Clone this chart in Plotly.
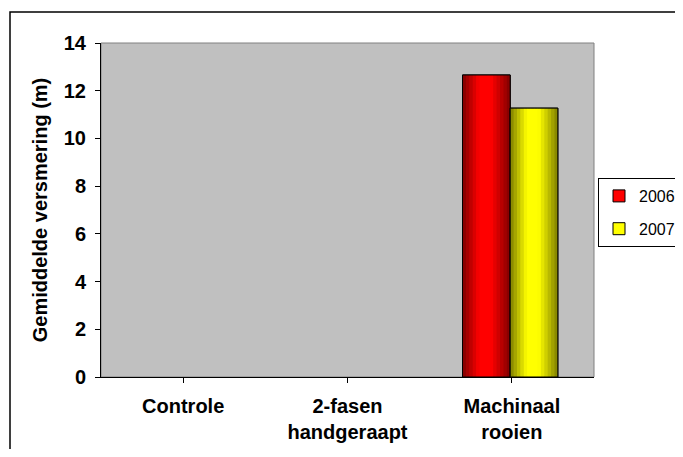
import plotly.graph_objects as go

categories = ["Controle", "2-fasen<br>handgeraapt", "Machinaal<br>rooien"]
values_2006 = [None, None, 12.66]
values_2007 = [None, None, 11.27]
y_ticks = [0, 2, 4, 6, 8, 10, 12, 14]

series = [
    ("2006", values_2006, (255, 0, 0), -0.30),
    ("2007", values_2007, (255, 255, 0), -0.01),
]
bar_w = 0.29
N = 14

def shade(t):
    if t < 0.35:
        return 0.5 + 0.5 * (t / 0.35)
    if t < 0.6:
        return 1.0
    return 1.0 - 0.5 * (t - 0.6) / 0.4

FONT = "Liberation Sans, Arial, sans-serif"
fig = go.Figure()
x_idx = list(range(len(categories)))
for name, vals, rgb, off in series:
    col = "rgb(%d,%d,%d)" % rgb
    fig.add_trace(go.Bar(x=x_idx, y=vals, name=name, legendgroup=name, offset=off, width=bar_w,
                         marker=dict(color=col, line=dict(color="black", width=1)),
                         hoverinfo="skip"))
    sw = bar_w / N
    for i in range(N):
        g = shade((i + 0.5) / N)
        c = "rgb(%d,%d,%d)" % tuple(int(v * g) for v in rgb)
        fig.add_trace(go.Bar(x=x_idx, y=vals, legendgroup=name, offset=off + i * sw,
                             width=sw * 1.15 if i < N - 1 else sw,
                             marker=dict(color=c, line=dict(width=0)), showlegend=False,
                             hoverinfo="skip"))
    fig.add_trace(go.Bar(x=x_idx, y=vals, legendgroup=name, offset=off, width=bar_w, showlegend=False,
                         marker=dict(color="rgba(0,0,0,0)", line=dict(color="black", width=1)),
                         hoverinfo="skip"))

# page is offset by the browser's default 8px body margin; keep the page from overflowing
W, H = 667, 441
L, T = 93, 35
PW, PH = 493, 334
R = W - L - PW
B = H - T - PH

fig.update_layout(
    width=W, height=H,
    margin=dict(l=L, r=R, t=T, b=B, autoexpand=False),
    barmode="overlay",
    paper_bgcolor="white",
    plot_bgcolor="#C0C0C0",
    font=dict(family=FONT, color="black"),
    showlegend=True,
    legend=dict(xref="container", yref="container",
                x=590 / W, y=1 - 170 / H, xanchor="left", yanchor="top",
                bordercolor="black", borderwidth=1, bgcolor="white",
                font=dict(size=16, family=FONT),
                itemwidth=30, tracegroupgap=9, traceorder="grouped"),
    xaxis=dict(
        tickmode="array", tickvals=x_idx, ticktext=categories,
        range=[-0.5, 2.5], showgrid=False, zeroline=False, automargin=False,
        showline=True, linecolor="black", linewidth=1,
        ticks="outside", ticklen=5, tickcolor="black", tickson="boundaries",
        ticklabelstandoff=6,
        tickfont=dict(size=20, family=FONT, weight="bold"),
    ),
    yaxis=dict(
        range=[0, 14], tickvals=y_ticks, showgrid=False, zeroline=False, automargin=False,
        showline=True, linecolor="black", linewidth=1,
        ticks="outside", ticklen=5, tickcolor="black",
        ticklabelstandoff=5,
        tickfont=dict(size=20, family=FONT, weight="bold"),
        title=dict(text="Gemiddelde versmering (m)", standoff=10,
                   font=dict(size=20, family=FONT, weight="bold")),
    ),
    shapes=[
        dict(type="rect", xref="paper", yref="paper", x0=0, x1=1, y0=0, y1=1,
             line=dict(color="#808080", width=1), layer="below"),
        dict(type="rect", xref="paper", yref="paper",
             x0=(2 - L) / PW, x1=(W + 40 - L) / PW, y0=-(B + 40) / PH, y1=(T + PH - 4) / PH,
             line=dict(color="black", width=1.5)),
    ],
)

fig.write_html("out.html")
